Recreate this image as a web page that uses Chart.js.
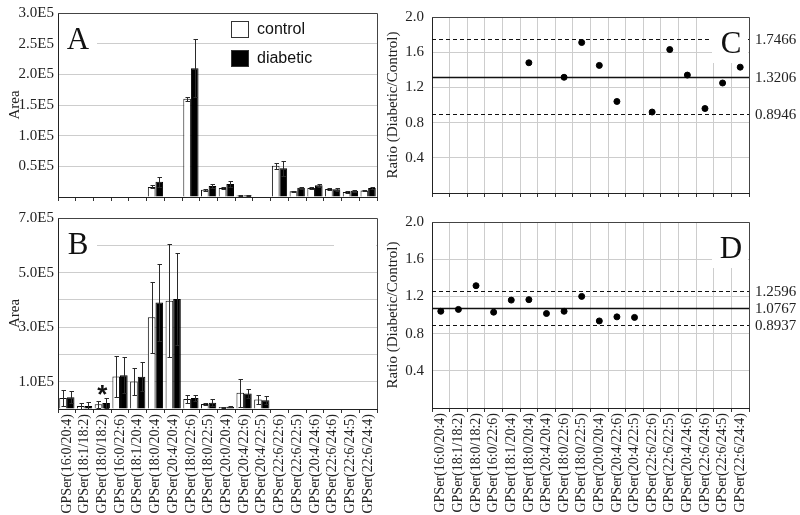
<!DOCTYPE html>
<html><head><meta charset="utf-8">
<script src="https://cdn.jsdelivr.net/npm/chart.js@4.4.1/dist/chart.umd.min.js"></script>
<style>
html,body{margin:0;padding:0;background:#fff;width:800px;height:515px;overflow:hidden;}
canvas{position:absolute;}
</style></head><body>
<canvas id="cA" width="400" height="210" style="left:0px;top:0px"></canvas>
<canvas id="cB" width="400" height="310" style="left:0px;top:205px"></canvas>
<canvas id="cC" width="420" height="210" style="left:380px;top:0px"></canvas>
<canvas id="cD" width="420" height="310" style="left:380px;top:205px"></canvas>
<script>
// ---------- data ----------
const categories = ['GPSer(16:0/20:4)','GPSer(18:1/18:2)','GPSer(18:0/18:2)','GPSer(16:0/22:6)','GPSer(18:1/20:4)','GPSer(18:0/20:4)','GPSer(20:4/20:4)','GPSer(18:0/22:6)','GPSer(18:0/22:5)','GPSer(20:0/20:4)','GPSer(20:4/22:6)','GPSer(20:4/22:5)','GPSer(22:6/22:6)','GPSer(22:6/22:5)','GPSer(20:4/24:6)','GPSer(22:6/24:6)','GPSer(22:6/24:5)','GPSer(22:6/24:4)'];
const seriesNames = ['control','diabetic'];

// Panel A
const controlA  = [null,null,null,null,null,16500,null,160000,12000,14500,2500,null,51000,9500,14500,13000,8000,10500];
const errCtrlA  = [null,null,null,null,null,2500,null,3500,1500,1000,500,null,5000,1000,1000,1500,1000,1000];
const diabeticA = [null,null,null,null,null,25000,null,210000,18000,21000,3000,null,47000,15000,19000,12500,10000,14500];
const errDiabA  = [null,null,null,null,null,8000,null,47000,3500,5000,800,null,12000,2000,3000,2500,1500,1500];

// Panel B
const controlB  = [40000,11000,17000,119000,101000,336000,397000,37000,18000,7000,60000,35000,null,null,null,null,null,null];
const errCtrlB  = [29000,12000,14000,76000,48000,130000,207000,15000,3000,2000,51000,18000,null,null,null,null,null,null];
const diabeticB = [43000,11000,22000,124000,118000,390000,403000,40000,23000,8500,57000,32000,null,null,null,null,null,null];
const errDiabB  = [22000,15000,19000,65000,53000,140000,167000,12000,12000,3000,18000,15000,null,null,null,null,null,null];
const significantB = [2];

// Panel C / D ratios
const ratioC = [null,null,null,null,null,1.48,null,1.315,1.71,1.45,1.04,null,0.92,1.63,1.34,0.96,1.25,1.43];
const ratioD = [1.04,1.06,1.315,1.03,1.16,1.165,1.016,1.04,1.20,0.936,0.98,0.974,null,null,null,null,null,null];
const linesC = [1.7466,1.3206,0.8946];
const linesD = [1.2596,1.0767,0.8937];

// tick labels
const tickValsA = [50000,100000,150000,200000,250000,300000];
const tickTextA = ['0.5E5','1.0E5','1.5E5','2.0E5','2.5E5','3.0E5'];
const tickValsB = [100000,300000,500000,700000];
const tickTextB = ['1.0E5','3.0E5','5.0E5','7.0E5'];
const tickValsR = [0.4,0.8,1.2,1.6,2.0];
const tickTextR = ['0.4','0.8','1.2','1.6','2.0'];

// ---------- setup ----------
const SERIF = '"Liberation Serif","Times New Roman",serif';
const SANS = '"Liberation Sans",Arial,sans-serif';
Chart.defaults.font.family = SERIF;
Chart.defaults.color = '#222';
const GRID = '#cdcdcd';
const AXIS = '#222';

function labelFor(vals, texts){
  return v => { const i = vals.findIndex(t => Math.abs(t - v) < 1e-9); return i < 0 ? '' : texts[i]; };
}

const errorBars = {
  id:'errorBars',
  afterDatasetsDraw(chart){
    const ctx = chart.ctx, y = chart.scales.y;
    ctx.save(); ctx.strokeStyle = '#2a2a2a'; ctx.lineWidth = 1;
    chart.data.datasets.forEach((ds,i) => {
      if (!ds.errors) return;
      chart.getDatasetMeta(i).data.forEach((bar,j) => {
        const v = ds.data[j], e = ds.errors[j];
        if (v == null || e == null) return;
        const x = Math.round(bar.x) + 0.5;
        const yt = Math.round(y.getPixelForValue(v + e)) + 0.5;
        const yb = Math.round(y.getPixelForValue(Math.max(0, v - e))) + 0.5;
        ctx.beginPath();
        ctx.moveTo(x, yt); ctx.lineTo(x, yb);
        ctx.moveTo(x - 2, yt); ctx.lineTo(x + 2.5, yt);
        ctx.moveTo(x - 2, yb); ctx.lineTo(x + 2.5, yb);
        ctx.stroke();
      });
    });
    ctx.restore();
  }
};

const deco = {
  id:'deco',
  beforeDatasetsDraw(chart, args, o){
    if (!o.lines) return;
    const ctx = chart.ctx, a = chart.chartArea, y = chart.scales.y;
    ctx.save(); ctx.strokeStyle = '#111';
    o.lines.forEach((v,i) => {
      const py = Math.round(y.getPixelForValue(v)) + 0.5;
      const dashed = i !== 1;
      ctx.lineWidth = dashed ? 1.2 : 1.6;
      ctx.setLineDash(dashed ? [4,3] : []);
      ctx.beginPath(); ctx.moveTo(a.left, py); ctx.lineTo(a.right, py); ctx.stroke();
    });
    ctx.restore();
  },
  afterDatasetsDraw(chart, args, o){
    const ctx = chart.ctx, a = chart.chartArea, y = chart.scales.y;
    ctx.save();
    // white label boxes
    ctx.fillStyle = '#fff';
    (o.boxes || []).forEach(b => {
      const x0 = b.side === 'left' ? a.left + 1 : a.right - b.w;
      ctx.fillRect(x0, a.top + 1, b.w - 1, 45);
    });
    // frame top & right
    ctx.strokeStyle = '#444'; ctx.lineWidth = 1;
    ctx.beginPath();
    ctx.moveTo(a.left, Math.round(a.top) + 0.5); ctx.lineTo(Math.round(a.right) + 0.5, Math.round(a.top) + 0.5);
    ctx.lineTo(Math.round(a.right) + 0.5, a.bottom);
    ctx.stroke();
    // panel letter
    if (o.letter) {
      ctx.fillStyle = '#111';
      ctx.font = '31px ' + SERIF;
      ctx.textAlign = 'center'; ctx.textBaseline = 'alphabetic';
      const cx = o.letterSide === 'left' ? a.left + 20 : a.right - 18;
      ctx.fillText(o.letter, cx, a.top + 36);
    }
    // right-hand labels of ref lines
    if (o.lines) {
      ctx.fillStyle = '#222'; ctx.font = '15px ' + SERIF;
      ctx.textAlign = 'left'; ctx.textBaseline = 'middle';
      o.lines.forEach(v => ctx.fillText(v.toFixed(4), a.right + 6, y.getPixelForValue(v) + 1));
    }
    // legend
    if (o.legend) {
      ctx.font = '16px ' + SANS; ctx.textAlign = 'left'; ctx.textBaseline = 'middle';
      chart.data.datasets.forEach((ds,i) => {
        const lx = a.left + 173, ly = a.top + 8 + i * 29;
        ctx.fillStyle = ds.backgroundColor; ctx.fillRect(lx, ly, 18, 17);
        ctx.strokeStyle = '#333'; ctx.lineWidth = 1; ctx.strokeRect(lx + 0.5, ly + 0.5, 17, 16);
        ctx.fillStyle = '#111'; ctx.fillText(ds.label, lx + 26, ly + 9);
      });
    }
    // significance marks
    if (o.stars) {
      ctx.fillStyle = '#111'; ctx.font = 'bold 26px ' + SANS;
      ctx.textAlign = 'center'; ctx.textBaseline = 'alphabetic';
      o.stars.forEach(idx => {
        let top = 0;
        chart.data.datasets.forEach(ds => { const v = ds.data[idx] || 0, e = (ds.errors && ds.errors[idx]) || 0; top = Math.max(top, v + e); });
        const x = chart.scales.x.getPixelForValue(idx);
        ctx.fillText('*', x, y.getPixelForValue(top) + 5);
      });
    }
    ctx.restore();
  }
};

function barChart(id, ctrl, eCtrl, diab, eDiab, yMax, step, vals, texts, opts){
  return new Chart(document.getElementById(id), {
    type:'bar',
    data:{labels:categories, datasets:[
      {label:seriesNames[0], data:ctrl, errors:eCtrl, backgroundColor:'#ffffff', borderColor:'#111', borderWidth:1},
      {label:seriesNames[1], data:diab, errors:eDiab, backgroundColor:'#000000', borderColor:'#000', borderWidth:1}
    ]},
    options:{
      responsive:false, animation:false,
      layout:{padding:{top:opts.top, right:23, left:0, bottom:0}},
      datasets:{bar:{categoryPercentage:0.86, barPercentage:1}},
      plugins:{legend:{display:false}, tooltip:{enabled:false}, deco:opts.deco},
      scales:{
        x:{
          grid:{display:true, drawOnChartArea:false, drawTicks:true, tickLength:4, color:'#333', offset:true},
          border:{color:AXIS},
          ticks:opts.showLabels ? {display:true, minRotation:90, maxRotation:90, autoSkip:false, font:{size:14}, padding:1, color:'#222'} : {display:false},
          afterFit(s){ s.height = opts.xh; }
        },
        y:{
          min:0, max:yMax,
          ticks:{stepSize:step, callback:labelFor(vals, texts), font:{size:15}, padding:4, color:'#222'},
          grid:{color:GRID, drawTicks:false},
          border:{color:AXIS},
          title:{display:true, text:'Area', font:{size:15}, color:'#222', padding:{top:6, bottom:0}},
          afterFit(s){ s.width = 58; }
        }
      }
    },
    plugins:[errorBars, deco]
  });
}

function ratioChart(id, data, lines, opts){
  return new Chart(document.getElementById(id), {
    type:'line',
    data:{labels:categories, datasets:[
      {label:'ratio', data:data, showLine:false, pointRadius:3, pointBackgroundColor:'#000', pointBorderColor:'#000', borderColor:'#000'}
    ]},
    options:{
      responsive:false, animation:false,
      layout:{padding:{top:opts.top, right:51, left:0, bottom:0}},
      plugins:{legend:{display:false}, tooltip:{enabled:false}, deco:Object.assign({lines:lines}, opts.deco)},
      scales:{
        x:{
          offset:true,
          grid:{display:true, drawOnChartArea:true, drawTicks:true, tickLength:4, color:GRID, tickColor:'#333', offset:true},
          border:{color:AXIS},
          ticks:opts.showLabels ? {display:true, minRotation:90, maxRotation:90, autoSkip:false, font:{size:14}, padding:1, color:'#222'} : {display:false},
          afterFit(s){ s.height = opts.xh; }
        },
        y:{
          min:0, max:2,
          ticks:{stepSize:0.2, callback:labelFor(tickValsR, tickTextR), font:{size:15}, padding:8, color:'#222'},
          grid:{color:GRID, drawTicks:false},
          border:{color:AXIS},
          title:{display:true, text:'Ratio (Diabetic/Control)', font:{size:15}, color:'#222', padding:{top:4, bottom:0}},
          afterFit(s){ s.width = 52; }
        }
      }
    },
    plugins:[deco]
  });
}

barChart('cA', controlA, errCtrlA, diabeticA, errDiabA, 300000, 50000, tickValsA, tickTextA,
  {top:9, xh:9, showLabels:false, deco:{letter:'A', letterSide:'left', boxes:[{side:'left', w:39}], legend:true}});
barChart('cB', controlB, errCtrlB, diabeticB, errDiabB, 700000, 100000, tickValsB, tickTextB,
  {top:10, xh:106, showLabels:true, deco:{letter:'B', letterSide:'left', boxes:[{side:'left', w:39},{side:'right', w:43}], stars:significantB}});
ratioChart('cC', ratioC, linesC, {top:9, xh:9, showLabels:false, deco:{letter:'C', letterSide:'right', boxes:[{side:'right', w:37}]}});
ratioChart('cD', ratioD, linesD, {top:12, xh:107, showLabels:true, deco:{letter:'D', letterSide:'right', boxes:[{side:'right', w:37}]}});
</script>
</body></html>
